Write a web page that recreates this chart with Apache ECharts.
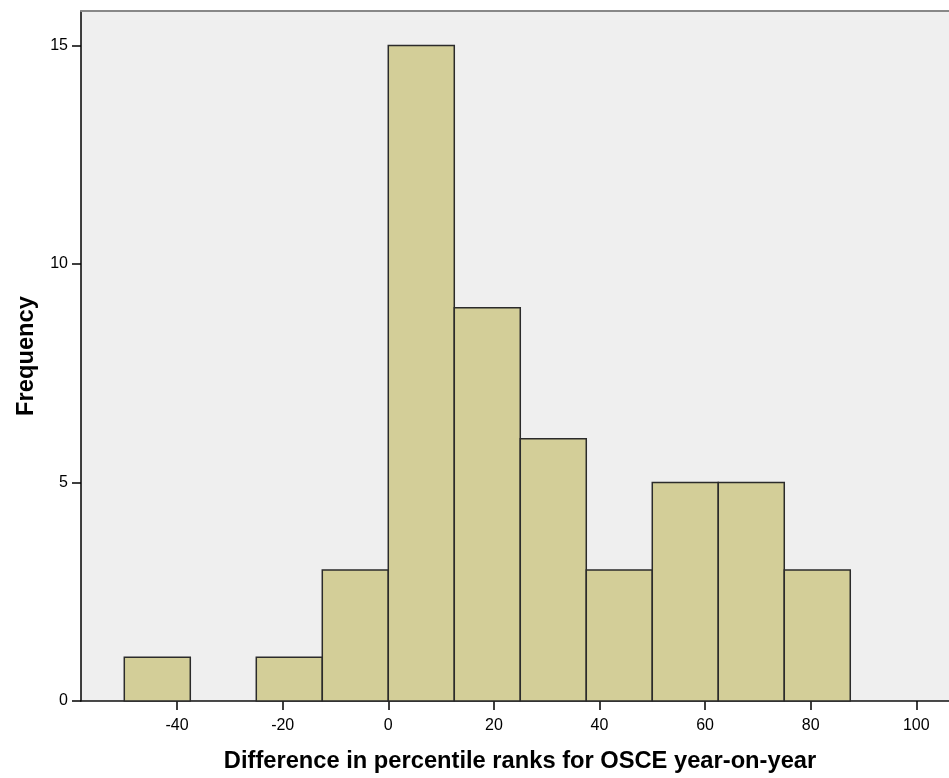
<!DOCTYPE html>
<html>
<head>
<meta charset="utf-8">
<script src="https://cdn.jsdelivr.net/npm/echarts@6/dist/echarts.min.js"></script>
<style>
  html, body { margin: 0; padding: 0; background: #ffffff; overflow: hidden; }
  #chart { width: 949px; height: 778px; }
</style>
</head>
<body>
<div id="chart"></div>
<script>
// Histogram bins (lower edge, upper edge) and counts
const binStarts = [-50, -37.5, -25, -12.5, 0, 12.5, 25, 37.5, 50, 62.5, 75];
const binEnds   = [-37.5, -25, -12.5, 0, 12.5, 25, 37.5, 50, 62.5, 75, 87.5];
const frequencies = [1, 0, 1, 3, 15, 9, 6, 3, 5, 5, 3];

const xTickValues = [-40, -20, 0, 20, 40, 60, 80, 100];
const yTickValues = [0, 5, 10, 15];

const xTitle = 'Difference in percentile ranks for OSCE year-on-year';
const yTitle = 'Frequency';

const histData = binStarts.map((s, i) => [s, binEnds[i], frequencies[i]]);

const font = '"Liberation Sans", Arial, sans-serif';
const chart = echarts.init(document.getElementById('chart'), null, { renderer: 'canvas' });

// axis extents; the plot stays open on its right side
const xMin = -58.2, xMax = 106.2;
const yMin = 0, yMax = 15.79;

chart.setOption({
  animation: false,
  backgroundColor: '#ffffff',
  grid: { left: 81, right: 0, top: 11, bottom: 77, show: false },
  xAxis: [{
    type: 'value',
    min: xMin, max: xMax,
    position: 'bottom',
    axisLine: { show: true, onZero: false, lineStyle: { color: '#111', width: 1.5 } },
    axisTick: { show: true, length: 9, customValues: xTickValues, lineStyle: { color: '#000', width: 1.5 } },
    axisLabel: { customValues: xTickValues, color: '#000', fontSize: 16, fontFamily: font, margin: 17 },
    splitLine: { show: false },
    name: xTitle,
    nameLocation: 'middle',
    nameGap: 48,
    nameTextStyle: { color: '#000', fontSize: 23.7, fontWeight: 'bold', fontFamily: font, padding: [0, 0, 0, 10] }
  }, {
    type: 'value',
    min: xMin, max: xMax,
    position: 'top',
    axisLine: { show: true, onZero: false, lineStyle: { color: '#888', width: 2 } },
    axisTick: { show: false },
    axisLabel: { show: false },
    splitLine: { show: false }
  }],
  yAxis: {
    type: 'value',
    min: yMin, max: yMax,
    axisLine: { show: true, onZero: false, lineStyle: { color: '#000', width: 1.5 } },
    axisTick: { show: true, length: 9, customValues: yTickValues, lineStyle: { color: '#000', width: 1.5 } },
    axisLabel: { customValues: yTickValues, color: '#000', fontSize: 16, fontFamily: font, margin: 13 },
    splitLine: { show: false },
    name: yTitle,
    nameLocation: 'middle',
    nameGap: 43,
    nameRotate: 90,
    nameTextStyle: { color: '#000', fontSize: 23.7, fontWeight: 'bold', fontFamily: font }
  },
  series: [{
    type: 'custom',
    xAxisIndex: 0,
    data: histData,
    clip: false,
    markArea: {
      silent: true,
      z: -1,
      itemStyle: { color: '#efefef', borderWidth: 0 },
      data: [[{ coord: [xMin, yMin] }, { coord: [xMax, yMax] }]]
    },
    renderItem: function (params, api) {
      const count = api.value(2);
      if (!count) return null;
      const p0 = api.coord([api.value(0), count]);
      const p1 = api.coord([api.value(1), 0]);
      return {
        type: 'rect',
        shape: { x: p0[0], y: p0[1], width: p1[0] - p0[0], height: p1[1] - p0[1] },
        style: { fill: '#d3ce98', stroke: '#2b2b2b', lineWidth: 1.5 }
      };
    }
  }]
});
</script>
</body>
</html>
